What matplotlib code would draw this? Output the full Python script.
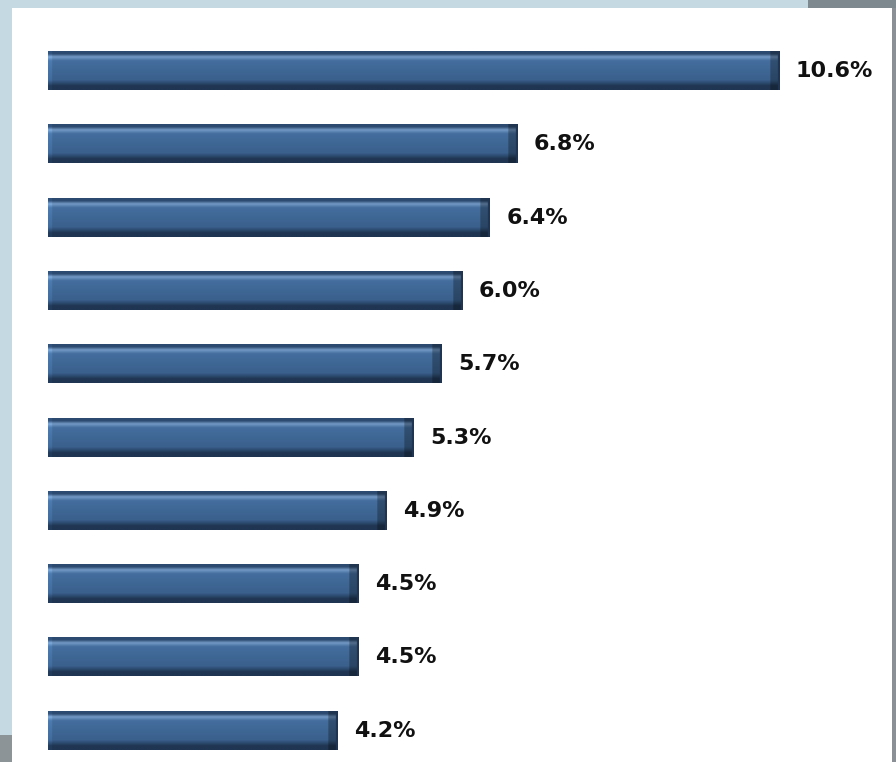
import numpy as np
import matplotlib
matplotlib.use("Agg")
import matplotlib.pyplot as plt
from matplotlib.patches import Rectangle

values = [10.6, 6.8, 6.4, 6.0, 5.7, 5.3, 4.9, 4.5, 4.5, 4.2]
labels = ["10.6%", "6.8%", "6.4%", "6.0%", "5.7%", "5.3%", "4.9%", "4.5%", "4.5%", "4.2%"]

W, H = 896, 762
fig = plt.figure(figsize=(W / 100, H / 100), dpi=100)
fig.patch.set_facecolor("#c5d9e2")
ax = fig.add_axes([0, 0, 1, 1])
ax.set_facecolor("none")
ax.axis("off")

# pixel layout -> data limits
x0_px, px_per_unit = 48, 69.0
y0_px, px_per_row = 71, 73.3
ax.set_xlim(-x0_px / px_per_unit, (W - x0_px) / px_per_unit)
ax.set_ylim((H - y0_px) / px_per_row, -y0_px / px_per_row)

# frame around the panel
def fig_rect(x, y, w, h, color):
    ax.add_patch(Rectangle((x / W, 1 - (y + h) / H), w / W, h / H,
                           transform=ax.transAxes, color=color, lw=0, zorder=0))

fig_rect(808, 0, 88, 9, "#7d888f")
fig_rect(0, 735, 12, 27, "#8d9498")
fig_rect(12, 8, 881, 754, "#ffffff")
fig_rect(892, 8, 4, 754, "#8a9096")

# bevelled bar shading profile (top -> bottom)
top = np.array([0x2c, 0x4a, 0x70]) / 255
light = np.array([0x74, 0x9a, 0xc6]) / 255
mid = np.array([0x44, 0x6e, 0x9e]) / 255
low = np.array([0x3a, 0x60, 0x8c]) / 255
bot = np.array([0x1f, 0x35, 0x52]) / 255
stops = [(0.0, top), (0.06, top), (0.14, light), (0.24, mid), (0.75, low), (0.9, bot), (1.0, bot)]
n_rows = 40
rows = np.zeros((n_rows, 3))
for r in range(n_rows):
    t = r / (n_rows - 1)
    for (ta, ca), (tb, cb) in zip(stops[:-1], stops[1:]):
        if ta <= t <= tb:
            f = 0 if tb == ta else (t - ta) / (tb - ta)
            rows[r] = ca * (1 - f) + cb * f
            break

bar_h = 0.52
for i, (v, lab) in enumerate(zip(values, labels)):
    ncols = int(v * 100)
    img = np.repeat(rows[:, None, :], ncols, axis=1)
    # left bevel lighter, right bevel darker
    img[:, :6] = np.clip(img[:, :6] * 1.12, 0, 1)
    img[:, -14:] = img[:, -14:] * 0.72
    img[:, -3:] = bot
    ax.imshow(img, extent=(0, v, i + bar_h / 2, i - bar_h / 2),
              aspect="auto", interpolation="bilinear", zorder=2)
    ax.text(v + 0.24, i, lab, va="center", ha="left", fontsize=16,
            fontweight="bold", color="#111111", zorder=3)

fig.savefig("out.png", dpi=100, facecolor=fig.get_facecolor())
